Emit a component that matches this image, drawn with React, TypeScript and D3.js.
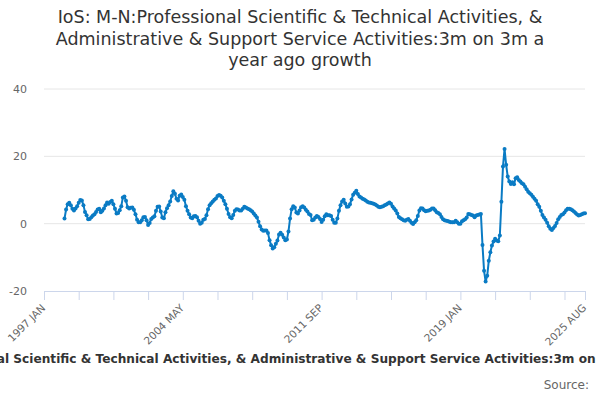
import React, { useRef, useEffect } from 'react';
import * as d3 from 'd3';

const MONTHS = ['JAN', 'FEB', 'MAR', 'APR', 'MAY', 'JUN', 'JUL', 'AUG', 'SEP', 'OCT', 'NOV', 'DEC'];
const FIRST_YEAR = 1997;
const LAST_YEAR = 2025;
const LAST_MONTH = 7; // AUG

const categories: string[] = [];
for (let yr = FIRST_YEAR; yr <= LAST_YEAR; yr++) {
  MONTHS.forEach((m, k) => {
    if (yr < LAST_YEAR || k <= LAST_MONTH) categories.push(`${yr} ${m}`);
  });
}

// 3m on 3m a year ago growth, one value per month from 1997 JAN
const growth: (number | null)[] = [
  null, null, null, null, null, null, null, null, null, null, null, null,
  null, 1.5, 4.2, 5.8, 6.2, 5.5, 4.4, 3.9, 4.5, 5.2, 6.2, 7.0,
  6.9, 5.5, 3.5, 2.5, 1.3, 1.4, 1.9, 2.4, 2.8, 3.5, 4.2, 4.4,
  3.4, 3.8, 4.5, 5.5, 6.3, 5.9, 6.4, 6.8, 5.8, 4.4, 3.0, 3.2,
  4.0, 5.2, 7.8, 8.1, 6.8, 4.9, 4.5, 4.7, 4.8, 4.1, 2.8, 1.2,
  0.4, 0.4, 1.0, 1.9, 2.0, 1.0, -0.4, 0.2, 1.4, 1.8, 2.2, 3.8,
  5.0, 5.1, 3.6, 1.8, 1.6, 3.4, 4.6, 5.5, 6.6, 8.2, 9.6, 8.9,
  7.4, 6.9, 8.3, 8.7, 7.9, 7.1, 5.2, 3.8, 2.8, 1.8, 1.6, 2.2,
  2.3, 1.9, 0.9, 0.0, 0.3, 1.2, 1.4, 2.5, 4.3, 5.5, 6.1, 6.6,
  7.1, 7.5, 8.2, 8.5, 8.3, 7.8, 6.8, 5.8, 4.4, 2.9, 1.9, 1.6,
  2.6, 3.8, 4.3, 4.2, 3.9, 3.9, 4.4, 5.0, 4.8, 4.5, 4.3, 4.0,
  3.6, 3.0, 2.4, 1.8, 0.6, -0.8, -1.7, -2.1, -2.0, -2.0, -2.8, -4.9,
  -6.4, -7.4, -7.0, -6.0, -5.0, -3.2, -2.7, -3.3, -4.1, -4.9, -4.7, -2.3,
  1.5, 4.3, 5.2, 4.8, 3.3, 3.0, 3.9, 4.9, 5.2, 4.8, 4.1, 3.6,
  2.9, 2.6, 1.0, 1.2, 1.8, 2.3, 2.0, 1.4, 0.5, 1.2, 2.2, 2.8,
  2.5, 2.5, 2.3, 1.2, 0.3, 0.3, 1.5, 3.8, 5.5, 6.6, 7.1, 6.0,
  5.0, 5.1, 5.8, 7.2, 8.6, 9.2, 9.8, 8.8, 8.1, 7.8, 7.4, 7.2,
  6.9, 6.5, 6.3, 6.2, 6.1, 5.9, 5.7, 5.4, 5.0, 4.9, 5.0, 5.2,
  5.5, 5.7, 6.0, 6.3, 5.9, 5.1, 4.5, 3.9, 3.0, 2.0, 1.6, 1.3,
  1.0, 0.9, 1.2, 1.4, 0.9, 0.3, -0.1, 0.4, 1.0, 2.3, 3.9, 4.6,
  4.5, 4.0, 3.7, 3.8, 3.9, 4.1, 4.5, 4.5, 4.0, 3.4, 3.2, 2.8,
  2.0, 1.3, 1.0, 0.9, 0.8, 0.6, 0.4, 0.4, 0.4, 0.9, 0.4, 0.0,
  0.0, 0.7, 1.0, 1.3, 1.8, 2.9, 2.8, 2.6, 2.4, 1.9, 2.4, 2.6,
  2.7, 2.9, -6.3, -14.0, -17.2, -15.5, -11.0, -8.5, -6.5, -5.3, -4.5, -5.0,
  -5.2, -3.5, 6.5, 17.0, 22.2, 17.5, 14.0, 12.5, 11.8, 12.3, 11.7, 13.5,
  13.8, 13.0, 12.5, 12.0, 11.7, 11.0, 10.2, 9.5, 9.0, 8.6, 8.0, 7.4,
  6.8, 5.8, 5.0, 3.8, 2.6, 1.8, 1.2, 0.3, -0.8, -1.5, -1.9, -1.3,
  -0.7, 0.2, 1.3, 2.0, 2.6, 2.8, 3.3, 4.0, 4.4, 4.4, 4.3, 4.0,
  3.6, 3.2, 2.7, 2.4, 2.6, 2.8, 3.0, 3.1,
];

const yTicks = [-20, 0, 20, 40];
const xLabels = ['1997 JAN', '2004 MAY', '2011 SEP', '2019 JAN', '2025 AUG'];
const X_TICK_STEP = 22;

const titleLines = [
  'IoS: M-N:Professional Scientific & Technical Activities, &',
  'Administrative & Support Service Activities:3m on 3m a',
  'year ago growth',
];
const seriesName =
  'IoS: M-N:Professional Scientific & Technical Activities, & Administrative & Support Service Activities:3m on 3m a year ago growth';

const LINE_COLOR = '#0a7bc4';
const FONT = '"DejaVu Sans", sans-serif';

const App: React.FC = () => {
  const svgRef = useRef<SVGSVGElement>(null);

  useEffect(() => {
    if (!svgRef.current) return;
    const width = 600;
    const height = 400;
    const margin = { top: 89, right: 15, bottom: 109, left: 44 };

    const svg = d3.select(svgRef.current);
    svg.selectAll('*').remove();

    const x = d3.scalePoint<string>().domain(categories).range([margin.left, width - margin.right]);
    const y = d3.scaleLinear().domain([-20, 40]).range([height - margin.bottom, margin.top]);

    // title
    svg.append('text')
      .attr('x', width / 2)
      .attr('y', 23)
      .attr('text-anchor', 'middle')
      .attr('fill', '#333333')
      .style('font-family', FONT)
      .style('font-size', '17.5px')
      .selectAll('tspan')
      .data(titleLines)
      .join('tspan')
      .attr('x', width / 2)
      .attr('dy', (_, i) => (i === 0 ? 0 : 21.5))
      .text(d => d);

    // grid + y labels
    const yAxis = svg.append('g');
    yAxis.selectAll('line')
      .data(yTicks.filter(t => t !== -20))
      .join('line')
      .attr('x1', margin.left)
      .attr('x2', width - margin.right)
      .attr('y1', d => y(d))
      .attr('y2', d => y(d))
      .attr('stroke', '#e6e6e6');
    yAxis.selectAll('text')
      .data(yTicks)
      .join('text')
      .attr('x', 27)
      .attr('y', d => y(d) + 4)
      .attr('text-anchor', 'end')
      .attr('fill', '#666666')
      .style('font-family', FONT)
      .style('font-size', '11px')
      .text(d => d);

    // x axis
    const tickCats = categories.filter((_, i) => i % X_TICK_STEP === 0 || i === categories.length - 1);
    const xAxis = svg.append('g')
      .attr('transform', `translate(0,${height - margin.bottom})`)
      .call(
        d3.axisBottom(x)
          .tickValues(tickCats)
          .tickSize(9)
          .tickFormat(d => (xLabels.includes(d) ? d : ''))
      );
    xAxis.select('.domain').attr('stroke', '#ccd6eb');
    xAxis.selectAll('.tick line').attr('stroke', '#ccd6eb');
    xAxis.selectAll<SVGTextElement, string>('.tick text')
      .attr('fill', '#666666')
      .style('font-family', FONT)
      .style('font-size', '10.5px')
      .attr('text-anchor', 'end')
      .attr('x', 0)
      .attr('y', 0)
      .attr('dy', '0.35em')
      .attr('transform', 'translate(-1,15) rotate(-45)');

    // series
    const pts = categories
      .map((c, i) => ({ c, v: growth[i] }))
      .filter(d => d.v !== null) as { c: string; v: number }[];

    const line = d3.line<{ c: string; v: number }>()
      .x(d => x(d.c) as number)
      .y(d => y(d.v));

    svg.append('path')
      .datum(pts)
      .attr('fill', 'none')
      .attr('stroke', LINE_COLOR)
      .attr('stroke-width', 2)
      .attr('stroke-linejoin', 'round')
      .attr('d', line);

    svg.append('g')
      .selectAll('circle')
      .data(pts)
      .join('circle')
      .attr('cx', d => x(d.c) as number)
      .attr('cy', d => y(d.v))
      .attr('r', 2)
      .attr('fill', LINE_COLOR);

    // legend: symbol + name, centred as one item (wider than the chart, so it gets clipped)
    const legend = svg.append('g');
    legend.append('line')
      .attr('x1', 0).attr('x2', 16).attr('y1', -4).attr('y2', -4)
      .attr('stroke', LINE_COLOR).attr('stroke-width', 2);
    legend.append('circle').attr('cx', 8).attr('cy', -4).attr('r', 2).attr('fill', LINE_COLOR);
    const legendText = legend.append('text')
      .attr('x', 21)
      .attr('y', 0)
      .attr('fill', '#333333')
      .style('font-family', FONT)
      .style('font-size', '12.15px')
      .style('font-weight', 'bold')
      .text(seriesName);
    const textLen = (legendText.node() as SVGTextElement).getComputedTextLength();
    legend.attr('transform', `translate(${width / 2 - (21 + textLen) / 2 - 4.5},363)`);

    svg.append('text')
      .attr('x', 589)
      .attr('y', 389)
      .attr('text-anchor', 'end')
      .attr('fill', '#666666')
      .style('font-family', FONT)
      .style('font-size', '12px')
      .text('Source:');
  }, []);

  return (
    <div style={{ position: 'fixed', left: 0, top: 0, width: 600, height: 400, background: '#ffffff' }}>
      <svg ref={svgRef} width={600} height={400} style={{ display: 'block' }} />
    </div>
  );
};

export default App;
